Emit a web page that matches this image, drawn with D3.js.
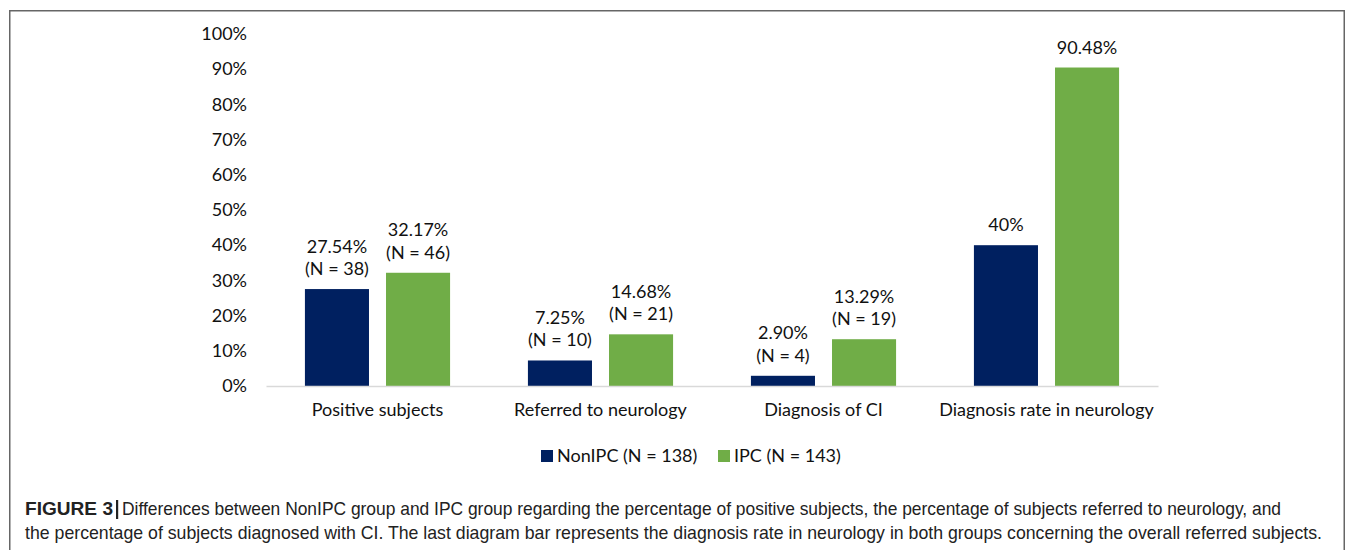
<!DOCTYPE html>
<html>
<head>
<meta charset="utf-8">
<script src="https://cdn.jsdelivr.net/npm/d3@7"></script>
<style>
    html, body { margin: 0; padding: 0; background: #fff; }
    svg { display: block; }
    .chart-text { font-family: Lato, "Open Sans", sans-serif; font-size: 18px; fill: #111; }
    .caption { font-family: "Liberation Sans", Arial, sans-serif; font-size: 19px; fill: #222; }
</style>
</head>
<body>
<div id="chart-area"></div>
<script>
    // chart data
    const categories = ['Positive subjects', 'Referred to neurology', 'Diagnosis of CI', 'Diagnosis rate in neurology'];
    const seriesKeys = ['nonipc', 'ipc'];
    const seriesNames = ['NonIPC (N = 138)', 'IPC (N = 143)'];
    const nonIpcValues = [27.54, 7.25, 2.90, 40];
    const ipcValues = [32.17, 14.68, 13.29, 90.48];
    const nonIpcLabels = [['27.54%', '(N = 38)'], ['7.25%', '(N = 10)'], ['2.90%', '(N = 4)'], ['40%']];
    const ipcLabels = [['32.17%', '(N = 46)'], ['14.68%', '(N = 21)'], ['13.29%', '(N = 19)'], ['90.48%']];
    const yTicks = [0, 10, 20, 30, 40, 50, 60, 70, 80, 90, 100];
    const captionLine1 = 'Differences between NonIPC group and IPC group regarding the percentage of positive subjects, the percentage of subjects referred to neurology, and';
    const captionLine2 = 'the percentage of subjects diagnosed with CI. The last diagram bar represents the diagnosis rate in neurology in both groups concerning the overall referred subjects.';

    const WIDTH = 1355, HEIGHT = 550;
    const PLOT = {left: 266, right: 1158, top: 34, bottom: 386};
    const fillColors = {nonipc: '#002060', ipc: '#70ad47'};

    const svg = d3.select('#chart-area').append('svg')
        .attr('width', WIDTH)
        .attr('height', HEIGHT);

    // frame round the figure
    svg.append('path')
        .attr('d', `M9.75,${HEIGHT + 5} V10.75 H1344.25 V${HEIGHT + 5}`)
        .attr('fill', 'none')
        .attr('stroke', '#666')
        .attr('stroke-width', 1.5);

    const x0 = d3.scaleBand()
        .domain(categories)
        .range([PLOT.left, PLOT.right]);

    const x1 = d3.scaleBand()
        .domain(seriesKeys)
        .range([0, x0.bandwidth()])
        .paddingInner(0.21)
        .paddingOuter(0.48);

    const y = d3.scaleLinear()
        .domain([0, 100])
        .range([PLOT.bottom, PLOT.top]);

    // y axis, labels only
    const yAxisGroup = svg.append('g')
        .attr('transform', `translate(${PLOT.left}, 0)`)
        .call(d3.axisLeft(y).tickValues(yTicks).tickSize(0).tickPadding(19).tickFormat(d => d + '%'));
    yAxisGroup.select('.domain').remove();
    yAxisGroup.selectAll('text')
        .attr('class', 'chart-text')
        .attr('font-family', null)
        .attr('font-size', null)
        .attr('fill', null);

    // bars
    const rows = categories.map((c, i) => ({
        category: c,
        values: [
            {key: 'nonipc', value: nonIpcValues[i], label: nonIpcLabels[i]},
            {key: 'ipc', value: ipcValues[i], label: ipcLabels[i]}
        ]
    }));

    const groups = svg.append('g').selectAll('g')
        .data(rows)
        .enter().append('g')
        .attr('transform', d => `translate(${x0(d.category)}, 0)`);

    groups.selectAll('rect')
        .data(d => d.values)
        .enter().append('rect')
        .attr('x', d => x1(d.key))
        .attr('y', d => y(d.value))
        .attr('width', x1.bandwidth())
        .attr('height', d => y(0) - y(d.value))
        .attr('fill', d => fillColors[d.key]);

    groups.selectAll('text.value')
        .data(d => d.values)
        .enter().append('text')
        .attr('class', 'value chart-text')
        .attr('text-anchor', 'middle')
        .each(function (d) {
            const t = d3.select(this);
            const cx = x1(d.key) + x1.bandwidth() / 2;
            const n = d.label.length;
            d.label.forEach((line, j) => {
                t.append('tspan')
                    .attr('x', cx)
                    .attr('y', y(d.value) - 14 - (n - 1 - j) * 22.5)
                    .text(line);
            });
        });

    // x axis
    const xAxisGroup = svg.append('g')
        .attr('transform', `translate(0, ${PLOT.bottom})`)
        .call(d3.axisBottom(x0).tickSize(0).tickPadding(17));
    xAxisGroup.select('.domain')
        .attr('stroke', '#d9d9d9')
        .attr('stroke-width', 1.3);
    xAxisGroup.selectAll('text')
        .attr('class', 'chart-text')
        .attr('font-family', null)
        .attr('font-size', null)
        .attr('fill', null);

    // legend
    const legendX = [541, 718];
    const legend = svg.append('g').attr('transform', 'translate(0, 456)');
    seriesKeys.forEach((k, i) => {
        const row = legend.append('g').attr('transform', `translate(${legendX[i]}, 0)`);
        row.append('rect')
            .attr('x', 0)
            .attr('y', -6)
            .attr('width', 12)
            .attr('height', 12)
            .attr('fill', fillColors[k]);
        row.append('text')
            .attr('class', 'chart-text')
            .attr('x', 16)
            .attr('dy', '0.35em')
            .text(seriesNames[i]);
    });

    // caption
    svg.append('text')
        .attr('class', 'caption')
        .attr('x', 25)
        .attr('y', 515)
        .attr('font-weight', 'bold')
        .attr('textLength', 88)
        .attr('lengthAdjust', 'spacingAndGlyphs')
        .text('FIGURE 3');
    svg.append('rect')
        .attr('x', 116)
        .attr('y', 500)
        .attr('width', 2.2)
        .attr('height', 19)
        .attr('fill', '#222');
    svg.append('text')
        .attr('class', 'caption')
        .attr('x', 122)
        .attr('y', 515)
        .attr('textLength', 1159)
        .attr('lengthAdjust', 'spacingAndGlyphs')
        .text(captionLine1);
    svg.append('text')
        .attr('class', 'caption')
        .attr('x', 25)
        .attr('y', 539)
        .attr('textLength', 1297)
        .attr('lengthAdjust', 'spacingAndGlyphs')
        .text(captionLine2);
</script>
</body>
</html>
